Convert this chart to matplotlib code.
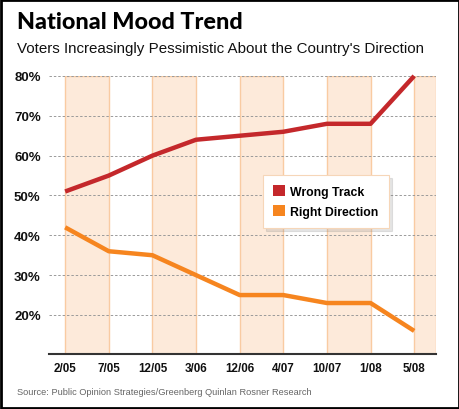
import matplotlib.pyplot as plt
from matplotlib.patches import Patch, Rectangle

plt.rcParams['font.family'] = ['Liberation Sans', 'DejaVu Sans']

dates = ['2/05', '7/05', '12/05', '3/06', '12/06', '4/07', '10/07', '1/08', '5/08']
wrong_track = [51, 55, 60, 64, 65, 66, 68, 68, 80]
right_direction = [42, 36, 35, 30, 25, 25, 23, 23, 16]
y_ticks = [20, 30, 40, 50, 60, 70, 80]

RED = '#c4282b'
ORANGE = '#f6851f'

fig = plt.figure(figsize=(4.6, 4.1), dpi=100)
ax = fig.add_axes([49/460, 55/410, 387/460, 278/410])

x = list(range(len(dates)))

# shaded bands between pairs of dates
for start in range(0, len(dates), 2):
    end = min(start + 1, len(dates) - 0.5)
    ax.axvspan(start, end, facecolor='#fdeada', edgecolor='#f9cba2', lw=1, zorder=0)

for v in y_ticks:
    ax.axhline(v, color='#9a9a9a', lw=0.7, ls=(0, (2.5, 2)), zorder=1)

ax.plot(x, wrong_track, color=RED, lw=3.2, solid_capstyle='butt', clip_on=False, zorder=3)
ax.plot(x, right_direction, color=ORANGE, lw=3.2, solid_capstyle='butt', clip_on=False, zorder=3)

ax.set_xlim(-0.37, 8.5)
ax.set_ylim(10.2, 80)
ax.set_xticks(x)
ax.set_xticklabels(dates)
ax.set_yticks(y_ticks)
ax.set_yticklabels([f'{v}%' for v in y_ticks])
ax.tick_params(axis='both', length=0, colors='#111111')
ax.tick_params(axis='x', pad=6, labelsize=8.4)
ax.tick_params(axis='y', pad=6, labelsize=9.5)
for lab in ax.get_xticklabels() + ax.get_yticklabels():
    lab.set_fontweight('bold')
for s in ['top', 'right', 'left']:
    ax.spines[s].set_visible(False)
ax.spines['bottom'].set_color('#333333')
ax.spines['bottom'].set_linewidth(1.5)

handles = [Patch(facecolor=RED, edgecolor='none'), Patch(facecolor=ORANGE, edgecolor='none')]
leg = ax.legend(handles, ['Wrong Track', 'Right Direction'], loc='upper left',
                bbox_to_anchor=((263 - 49) / 387, (355 - 176) / 278),
                frameon=True, fancybox=False, shadow={'color': '0.5', 'alpha': 0.2},
                prop={'weight': 'bold', 'size': 8.8}, handlelength=0.95, handleheight=0.95,
                handletextpad=0.45, borderpad=0.85, labelspacing=0.62, borderaxespad=0)
leg.get_frame().set_edgecolor('#f6d6b8')
leg.get_frame().set_linewidth(0.8)
leg.set_zorder(5)

fig.text(17/460, 1 - 29/410, 'National Mood Trend', fontsize=16.8, fontweight='black',
         family=['Lato', 'Liberation Sans'], color='black')
fig.text(17/460, 1 - 52.5/410, "Voters Increasingly Pessimistic About the Country's Direction",
         fontsize=10.9, color='#111111')
fig.text(17/460, 1 - 395/410, 'Source: Public Opinion Strategies/Greenberg Quinlan Rosner Research',
         fontsize=6.65, color='#666666')

fig.patches.append(Rectangle((0.002, 0.002), 0.996, 0.996, transform=fig.transFigure,
                             fill=False, edgecolor='black', lw=2))

fig.savefig('out.png', dpi=100)
